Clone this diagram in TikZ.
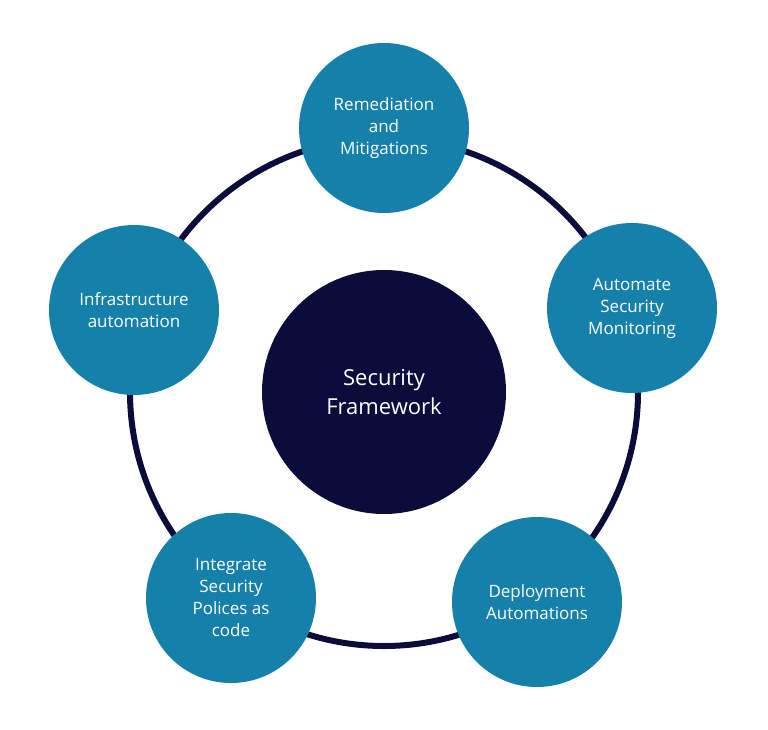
\documentclass[tikz,border=0pt]{standalone}
\usepackage{fontspec}
\setmainfont{Open Sans}
\definecolor{teal1}{HTML}{1581AA}
\definecolor{navy}{HTML}{0C0C3C}
\begin{document}
\begin{tikzpicture}[x=1pt,y=-1pt,
  sat/.style={circle,fill=teal1,minimum size=170pt,inner sep=0pt,text=white,align=center,font=\fontsize{17}{22}\selectfont},
  core/.style={circle,fill=navy,minimum size=244pt,inner sep=0pt,text=white,align=center,font=\fontsize{22}{29}\selectfont}]
\useasboundingbox (0,0) rectangle (768,730);
\coordinate (c) at (384,392);
\draw[navy,line width=6pt] (c) circle[radius=254pt];
\node[core] (core) at (c) {Security\\Framework};
\node[sat] (top) at (384,128) {Remediation\\and\\Mitigations};
\node[sat] (right) at (632,308) {Automate\\Security\\Monitoring};
\node[sat] (br) at (537,602) {Deployment\\Automations};
\node[sat] (bl) at (231,598) {Integrate\\Security\\Polices as\\code};
\node[sat] (left) at (134,310) {Infrastructure\\automation};
\end{tikzpicture}
\end{document}
